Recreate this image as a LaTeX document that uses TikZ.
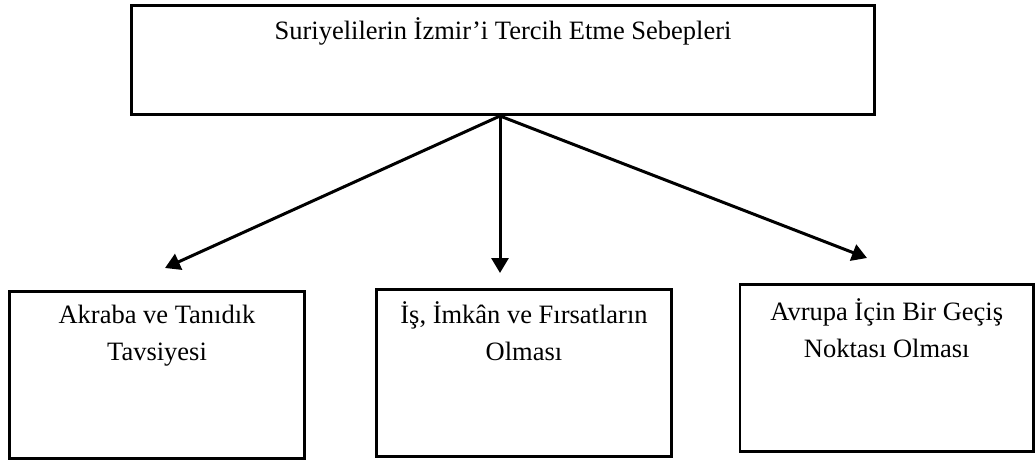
\documentclass[tikz,border=0pt]{standalone}
\usepackage{fontspec}
\setmainfont{Liberation Serif}
\usetikzlibrary{arrows.meta}
\newcommand{\bxt}[4]{\parbox[c][#2][t]{#1}{\centering\fontsize{26.5pt}{37pt}\selectfont\rule{0pt}{#3}#4\par}}
\begin{document}
\begin{tikzpicture}[x=1pt,y=-1pt,
  box/.style={draw, line width=2.5pt, inner sep=0pt, outer sep=0pt},
  arr/.style={line width=3pt, -{Triangle[length=15pt,width=17pt]}}]
\useasboundingbox[fill=white] (0,0) rectangle (1036,465);
\node[box] (top) at (503,60) {\bxt{743pt}{109pt}{34.5pt}{Suriyelilerin İzmir’i Tercih Etme Sebepleri}};
\node[box] (left) at (157,375) {\bxt{295pt}{167pt}{31.5pt}{Akraba ve Tanıdık\\Tavsiyesi}};
\node[box] (mid) at (524,373) {\bxt{295pt}{167pt}{33.5pt}{İş, İmkân ve Fırsatların\\Olması}};
\node[box] (right) at (886.75,368) {\bxt{293.5pt}{167pt}{35.5pt}{Avrupa İçin Bir Geçiş\\Noktası Olması}};
\coordinate (apex) at (500,116);
\coordinate (tipL) at (165,268);
\coordinate (tipM) at (500,273);
\coordinate (tipR) at (867,258);
\draw[arr] (apex) -- (tipL);
\draw[arr] (apex) -- (tipM);
\draw[arr] (apex) -- (tipR);
\end{tikzpicture}
\end{document}
